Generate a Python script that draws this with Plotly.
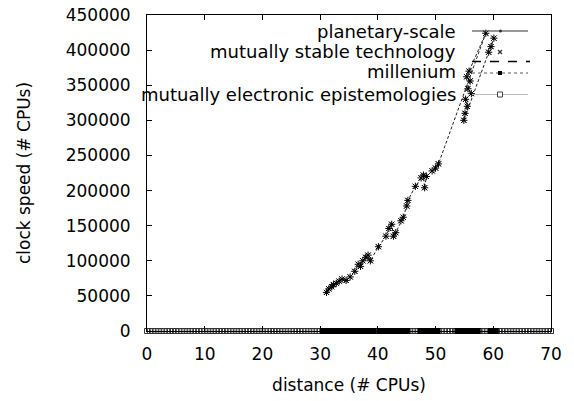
import plotly.graph_objects as go

# main rising series (distance, clock speed)
main_x = [31.1, 31.5, 32.0, 32.3, 32.8, 33.3, 33.8, 34.5, 35.2, 36.0, 36.6, 37.0, 37.4, 37.9,
          38.3, 38.7, 40.1, 41.4, 41.9, 42.4, 42.7, 43.1, 44.0, 44.4, 45.0, 45.2, 46.5, 47.5,
          47.9, 48.1, 48.4, 49.4, 50.0, 50.5, 58.7, 55.8, 55.4, 56.0, 55.6, 56.2, 55.2, 55.5,
          55.1, 54.9, 60.1, 59.6, 59.2]
main_y = [55000, 60000, 63000, 66000, 68000, 71000, 74000, 72000, 77000, 85000, 95000, 92000,
          100000, 105000, 108000, 100000, 120000, 135000, 146000, 152000, 135000, 140000,
          157000, 162000, 178000, 186000, 206000, 218000, 222000, 204000, 220000, 228000,
          232000, 238000, 424000, 370000, 362000, 356000, 345000, 338000, 330000, 320000,
          310000, 300000, 417000, 405000, 397000]

# dense filled points lying on zero (black band)
band_x = [30.5, 31, 31.5, 32, 32.5, 33, 33.5, 34, 34.5, 35, 35.5, 36, 36.5, 37, 37.5, 38, 38.5, 39, 39.3,
          40.4, 40.9, 41.4, 41.9, 42.4, 42.9, 43.4, 43.9, 44.4, 44.9, 45.1,
          47.4, 47.9, 48.4, 48.9, 49.4, 49.9, 50.3,
          53.8, 54.3, 54.8, 55.3, 55.8, 56.3, 56.8, 57.3,
          59.6, 60.1, 60.4]
band_y = [0] * len(band_x)

# square-marker series on zero
sq_x = [0, 0.5, 1, 1.5, 2, 2.5, 3, 3.5, 4, 4.5, 5, 5.5, 6, 6.5, 7, 7.5, 8, 8.5, 9, 9.5,
        10, 10.5, 11, 11.5, 12, 12.5, 13, 13.5, 14, 14.5, 15, 15.5, 16, 16.5, 17, 17.5, 18, 18.5, 19, 19.5,
        20, 20.5, 21, 21.5, 22, 22.5, 23, 23.5, 24, 24.5, 25, 25.5, 26, 26.5, 27, 27.5, 28, 28.5, 29, 29.5,
        30, 30.5, 31, 31.5, 32, 32.5, 33, 33.5, 34, 34.5, 35, 35.5, 36, 36.5, 37, 37.5, 38, 38.5, 39, 39.5,
        40, 40.5, 41, 41.5, 42, 42.5, 43, 43.5, 44, 44.5, 45, 45.5, 46, 46.5, 47, 47.5, 48, 48.5, 49, 49.5,
        50, 50.5, 51, 51.5, 52, 52.5, 53, 53.5, 54, 54.5, 55, 55.5, 56, 56.5, 57, 57.5, 58, 58.5, 59, 59.5,
        60, 60.5, 61, 61.5, 62, 62.5, 63, 63.5, 64, 64.5, 65, 65.5, 66, 66.5, 67, 67.5, 68, 68.5, 69, 69.5, 70]
sq_y = [0] * len(sq_x)

legend_names = ["planetary-scale", "mutually stable technology", "millenium",
                "mutually electronic epistemologies"]

x_ticks = [0, 10, 20, 30, 40, 50, 60, 70]
y_ticks = [0, 50000, 100000, 150000, 200000, 250000, 300000, 350000, 400000, 450000]
y_tick_text = ["0", "50000", "100000", "150000", "200000", "250000", "300000", "350000",
               "400000", "450000"]

FONT = "DejaVu Sans, Arial, sans-serif"

fig = go.Figure()
fig.add_trace(go.Scatter(x=sq_x, y=sq_y, mode="markers", cliponaxis=False,
                         marker=dict(symbol="square-open", size=5, color="#333333",
                                     line=dict(width=1, color="#333333")),
                         showlegend=False))
fig.add_trace(go.Scatter(x=band_x, y=band_y, mode="markers", cliponaxis=False,
                         marker=dict(symbol="square", size=6, color="black",
                                     line=dict(width=0)),
                         showlegend=False))
fig.add_trace(go.Scatter(x=main_x, y=main_y, mode="lines+markers", cliponaxis=False,
                         line=dict(color="#222222", width=1, dash="3px,2px"),
                         marker=dict(symbol="asterisk-open", size=6, color="black",
                                     line=dict(width=1, color="#111111")),
                         showlegend=False))
fig.add_trace(go.Scatter(x=main_x, y=main_y, mode="markers", cliponaxis=False,
                         marker=dict(symbol="x-thin-open", size=5, color="black",
                                     line=dict(width=1, color="#111111")),
                         showlegend=False))

# manual legend (text right-aligned, samples on the right) in paper coords
L, R, T, B = 147, 551, 15, 331
W, H = R - L, B - T
def px(x): return (x - L) / W
def py(y): return (B - y) / H

text_right = 458
rows_text = [31, 52, 72, 94]
for name, ty in zip(legend_names, rows_text):
    fig.add_annotation(x=px(text_right), y=py(ty), xref="paper", yref="paper",
                       text=name, showarrow=False, xanchor="right", yanchor="middle",
                       font=dict(family=FONT, size=18, color="black"))

shapes = []
# planetary-scale: solid line with dot
shapes.append(dict(type="line", xref="paper", yref="paper", x0=px(472), x1=px(528),
                   y0=py(31), y1=py(31), line=dict(color="#333333", width=1.2)))
shapes.append(dict(type="circle", xref="paper", yref="paper", x0=px(499), x1=px(502),
                   y0=py(29.5), y1=py(32.5), fillcolor="#333333", line=dict(width=0)))
# mutually stable technology: x marker + long dash
shapes.append(dict(type="line", xref="paper", yref="paper", x0=px(498), x1=px(502),
                   y0=py(50), y1=py(54), line=dict(color="#333333", width=1.2)))
shapes.append(dict(type="line", xref="paper", yref="paper", x0=px(498), x1=px(502),
                   y0=py(54), y1=py(50), line=dict(color="#333333", width=1.2)))
shapes.append(dict(type="line", xref="paper", yref="paper", x0=px(472), x1=px(530),
                   y0=py(61.5), y1=py(61.5), line=dict(color="black", width=1.5, dash="dash")))
# millenium: dotted line with filled square
shapes.append(dict(type="line", xref="paper", yref="paper", x0=px(472), x1=px(528),
                   y0=py(73), y1=py(73), line=dict(color="#555555", width=1, dash="dot")))
shapes.append(dict(type="rect", xref="paper", yref="paper", x0=px(498), x1=px(502),
                   y0=py(71), y1=py(75), fillcolor="black", line=dict(width=0)))
# mutually electronic epistemologies: light gray line with open square
shapes.append(dict(type="line", xref="paper", yref="paper", x0=px(472), x1=px(528),
                   y0=py(94.5), y1=py(94.5), line=dict(color="#bbbbbb", width=1.2)))
shapes.append(dict(type="rect", xref="paper", yref="paper", x0=px(497.5), x1=px(502.5),
                   y0=py(92), y1=py(97), fillcolor="white", line=dict(color="#444444", width=1)))

fig.update_layout(
    width=574, height=401,
    margin=dict(l=L, r=574 - R, t=T, b=401 - B, autoexpand=False),
    paper_bgcolor="white", plot_bgcolor="white",
    font=dict(family=FONT, size=17, color="black"),
    shapes=shapes,
    showlegend=False,
)
fig.update_xaxes(range=[0, 70], tickvals=x_ticks, ticks="inside", ticklen=5,
                 showline=True, linecolor="black", linewidth=1, mirror="ticks",
                 showgrid=False, zeroline=False, tickcolor="black", automargin=False,
                 tickfont=dict(family=FONT, size=17), ticklabelstandoff=8,
                 title=dict(text="distance (# CPUs)", standoff=15,
                            font=dict(family=FONT, size=17)))
fig.update_yaxes(range=[0, 450000], tickvals=y_ticks, ticktext=y_tick_text,
                 ticks="inside", ticklen=5, automargin=False,
                 showline=True, linecolor="black", linewidth=1, mirror="ticks",
                 showgrid=False, zeroline=False, tickcolor="black",
                 tickfont=dict(family=FONT, size=17), ticklabelstandoff=12,
                 title=dict(text="clock speed (# CPUs)", standoff=30,
                            font=dict(family=FONT, size=17)))

fig.write_html("out.html")
